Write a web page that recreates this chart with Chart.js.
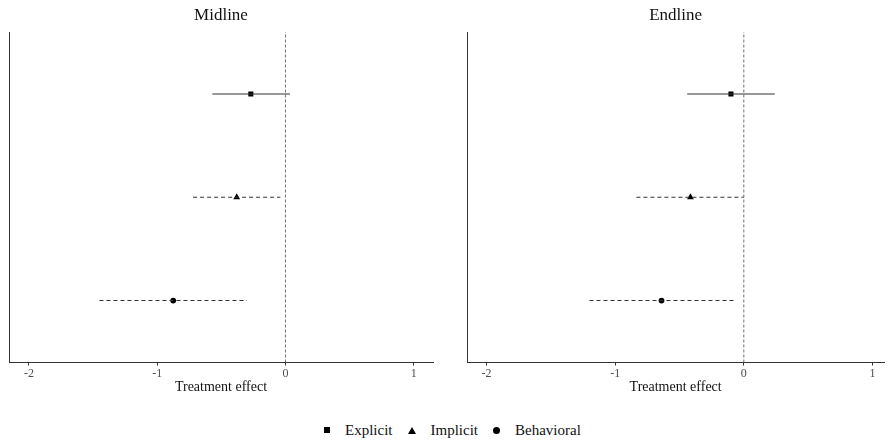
<!DOCTYPE html>
<html>
<head>
<meta charset="utf-8">
<script src="https://cdn.jsdelivr.net/npm/chart.js@4.4.1/dist/chart.umd.min.js"></script>
<style>
  html, body { margin: 0; padding: 0; background: #ffffff; }
  body { width: 888px; height: 440px; position: relative; overflow: hidden;
         font-family: "Liberation Serif", "Times New Roman", serif; }
  .panel { position: absolute; top: 0; width: 444px; height: 400px; }
  #midPanel { left: 0; }
  #endPanel { left: 444px; }
  #legend { position: absolute; left: 324px; top: 420px; height: 20px;
            display: flex; align-items: center; font-size: 15px; color: #111; }
  .key { display: inline-block; margin-right: 15px; }
  .label { margin-right: 15px; }
  .sq { width: 6px; height: 6px; background: #000; }
  .tri { width: 0; height: 0; border-left: 4px solid transparent; border-right: 4px solid transparent;
         border-bottom: 7px solid #000; }
  .dot { width: 7px; height: 7px; border-radius: 50%; background: #000; }
</style>
</head>
<body>
<div class="panel" id="midPanel"><canvas id="midline"></canvas></div>
<div class="panel" id="endPanel"><canvas id="endline"></canvas></div>
<div id="legend">
  <span class="key sq"></span><span class="label">Explicit</span>
  <span class="key tri"></span><span class="label">Implicit</span>
  <span class="key dot"></span><span class="label">Behavioral</span>
</div>
<script>
// Outcome measures, listed top to bottom
const measures = ['Explicit', 'Implicit', 'Behavioral'];
const markerStyles = ['rect', 'triangle', 'circle'];
const ciDashed = [false, true, true];

// Midline estimates with confidence bounds
const midlineEst  = [-0.27, -0.38, -0.875];
const midlineLow  = [-0.57, -0.72, -1.45];
const midlineHigh = [0.035, -0.04, -0.30];

// Endline estimates with confidence bounds
const endlineEst  = [-0.10, -0.415, -0.64];
const endlineLow  = [-0.44, -0.835, -1.20];
const endlineHigh = [0.24, 0.0, -0.07];

const xTicks = [-2, -1, 0, 1];

const serif = '"Liberation Serif", "Times New Roman", serif';
Chart.defaults.font.family = serif;
Chart.defaults.animation = false;

function rowOf(i) { return measures.length - i; }

function makePanel(id, title, est, low, high, xMin, xMax, padLeft, padRight) {
  const yMin = 0.4, yMax = measures.length + 0.6;
  const datasets = [{
    type: 'line',
    data: [{ x: 0, y: yMin }, { x: 0, y: yMax }],
    borderColor: '#6e6e6e',
    borderWidth: 1,
    borderDash: [3, 2],
    pointRadius: 0
  }];
  measures.forEach((m, i) => {
    datasets.push({
      type: 'line',
      label: m + ' CI',
      data: [{ x: low[i], y: rowOf(i) }, { x: high[i], y: rowOf(i) }],
      borderColor: '#333333',
      borderWidth: 1.1,
      borderDash: ciDashed[i] ? [4, 3] : [],
      pointRadius: 0
    });
  });
  measures.forEach((m, i) => {
    datasets.push({
      type: 'scatter',
      label: m,
      data: [{ x: est[i], y: rowOf(i) }],
      pointStyle: markerStyles[i],
      pointRadius: markerStyles[i] === 'rect' ? 3.6 : (markerStyles[i] === 'triangle' ? 3.9 : 2.9),
      backgroundColor: '#000',
      borderColor: '#000',
      borderWidth: 0
    });
  });

  return new Chart(document.getElementById(id), {
    data: { datasets },
    options: {
      responsive: true,
      maintainAspectRatio: false,
      layout: { padding: { left: padLeft, right: padRight, top: 0, bottom: 0 } },
      plugins: {
        legend: { display: false },
        tooltip: { enabled: false },
        title: {
          display: true,
          text: title,
          fullSize: false,
          color: '#111',
          font: { size: 17, family: serif, weight: 'normal' },
          padding: { top: 5, bottom: 6.6 }
        }
      },
      scales: {
        x: {
          type: 'linear',
          min: xMin,
          max: xMax,
          afterBuildTicks: (s) => { s.ticks = xTicks.map(v => ({ value: v })); },
          afterFit: (s) => { s.height = 37.5; },
          grid: { display: true, drawOnChartArea: false, drawTicks: true, tickLength: 3, tickColor: '#333', tickWidth: 1 },
          border: { display: true, color: '#333', width: 1 },
          ticks: { color: '#4d4d4d', padding: 1, font: { size: 12, family: serif },
                   callback: (v) => String(v) },
          title: { display: true, text: 'Treatment effect', color: '#111',
                   font: { size: 14, family: serif }, padding: { top: 0, bottom: 4 } }
        },
        y: {
          type: 'linear',
          min: yMin,
          max: yMax,
          afterFit: (s) => { s.width = 0; },
          grid: { display: false },
          border: { display: true, color: '#333', width: 1 },
          ticks: { display: false }
        }
      }
    }
  });
}

makePanel('midline', 'Midline', midlineEst, midlineLow, midlineHigh, -2.155, 1.15, 9, 11);
makePanel('endline', 'Endline', endlineEst, endlineLow, endlineHigh, -2.15, 1.09, 23.3, 0);
</script>
</body>
</html>
